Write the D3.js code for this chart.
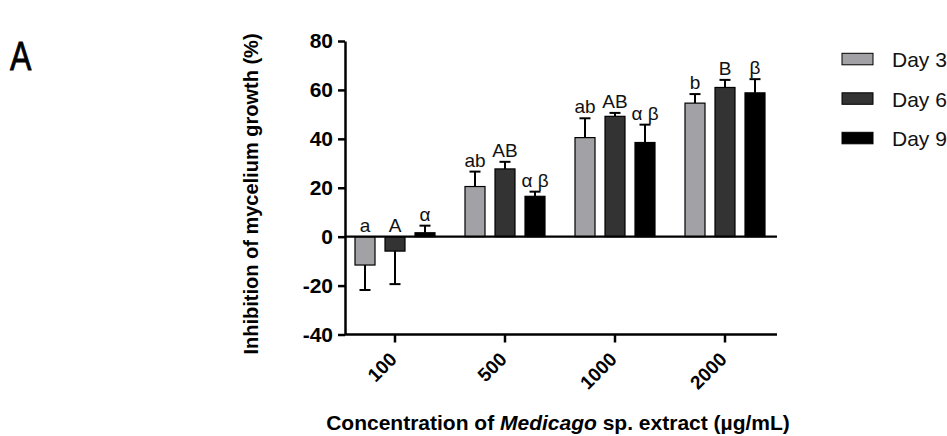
<!DOCTYPE html>
<html>
<head>
<meta charset="utf-8">
<script src="https://cdn.jsdelivr.net/npm/d3@7"></script>
<style>
  body { margin: 0; background: #fff; }
  text { font-family: "Liberation Sans", Arial, sans-serif; }
</style>
</head>
<body>
<div id="chart"></div>
<script>
// data
const groups = ["100", "500", "1000", "2000"];
const days = ["Day 3", "Day 6", "Day 9"];
const day3 = [-11.6, 20.5, 40.5, 54.6];
const day6 = [-5.9, 27.7, 49.2, 61.0];
const day9 = [1.6, 16.5, 38.5, 58.8];
const sd3 = [10.2, 6.1, 7.9, 3.7];
const sd6 = [13.5, 2.9, 1.4, 3.1];
const sd9 = [2.9, 1.9, 7.3, 5.6];
const letters3 = ["a", "ab", "ab", "b"];
const letters6 = ["A", "AB", "AB", "B"];
const letters9 = ["α", "α β", "α β", "β"];
const yTicks = [-40, -20, 0, 20, 40, 60, 80];

const width = 947, height = 436;
const colors = ["#a2a2a6", "#333333", "#000000"];

const svg = d3.select("#chart").append("svg")
  .attr("width", width)
  .attr("height", height);

const x = d3.scaleBand().domain(groups).range([340, 780]);
const xInner = d3.scaleBand().domain(days).range([-45, 45])
  .paddingInner(1 / 3).paddingOuter(1 / 6);
const y = d3.scaleLinear().domain([-40, 80]).range([334.5, 41]);

const vals = [day3, day6, day9], sds = [sd3, sd6, sd9], lets = [letters3, letters6, letters9];
const rows = [];
groups.forEach((g, gi) => {
  days.forEach((d, di) => {
    rows.push({ g, day: d, di, v: vals[di][gi], sd: sds[di][gi], lab: lets[di][gi] });
  });
});
const cx = r => x(r.g) + x.bandwidth() / 2 + xInner(r.day) + xInner.bandwidth() / 2;

// error bars (drawn first so the bar covers the stem)
const errEnd = r => r.v >= 0 ? r.v + r.sd : r.v - r.sd;
svg.selectAll("line.err")
  .data(rows)
  .join("line")
  .attr("class", "err")
  .attr("x1", cx).attr("x2", cx)
  .attr("y1", r => y(r.v)).attr("y2", r => y(errEnd(r)))
  .attr("stroke", "#000").attr("stroke-width", 2);
svg.selectAll("line.cap")
  .data(rows)
  .join("line")
  .attr("class", "cap")
  .attr("x1", r => cx(r) - 5.5).attr("x2", r => cx(r) + 5.5)
  .attr("y1", r => y(errEnd(r))).attr("y2", r => y(errEnd(r)))
  .attr("stroke", "#000").attr("stroke-width", 2);

// bars
svg.selectAll("rect.bar")
  .data(rows)
  .join("rect")
  .attr("class", "bar")
  .attr("x", r => cx(r) - xInner.bandwidth() / 2)
  .attr("width", xInner.bandwidth())
  .attr("y", r => y(Math.max(0, r.v)))
  .attr("height", r => Math.abs(y(r.v) - y(0)))
  .attr("fill", r => colors[r.di])
  .attr("stroke", "#000").attr("stroke-width", 1.2);

// significance letters
svg.selectAll("text.lab")
  .data(rows)
  .join("text")
  .attr("class", "lab")
  .attr("x", cx)
  .attr("y", r => y(r.v > 0 ? r.v + r.sd : 0) - 5)
  .attr("text-anchor", "middle")
  .attr("font-size", 19)
  .attr("fill", "#111")
  .text(r => r.lab);

// zero line
svg.append("line")
  .attr("x1", 345).attr("x2", 777)
  .attr("y1", y(0)).attr("y2", y(0))
  .attr("stroke", "#000").attr("stroke-width", 2.3);

// y axis
const yAxis = svg.append("g")
  .attr("transform", "translate(345,0)")
  .call(d3.axisLeft(y).tickValues(yTicks).tickFormat(d => String(d))
    .tickSize(7).tickPadding(5).tickSizeOuter(0));
yAxis.select(".domain").attr("stroke-width", 2.5);
yAxis.selectAll(".tick line").attr("stroke-width", 2.5);
yAxis.selectAll(".tick text")
  .attr("font-family", "Liberation Sans, Arial, sans-serif")
  .attr("font-size", 21).attr("font-weight", "bold").attr("fill", "#000");

// x axis
const xAxis = svg.append("g")
  .attr("transform", `translate(0,${y(-40)})`)
  .call(d3.axisBottom(x).tickSize(8).tickSizeOuter(0));
xAxis.select(".domain").attr("d", "M345,0H777").attr("stroke-width", 2.5);
xAxis.selectAll(".tick line").attr("stroke-width", 2.5);
xAxis.selectAll(".tick text")
  .attr("font-family", "Liberation Sans, Arial, sans-serif")
  .attr("font-size", 19).attr("font-weight", "bold").attr("fill", "#000")
  .attr("text-anchor", "end")
  .attr("dy", 0)
  .attr("y", 0)
  .attr("transform", "translate(3,26) rotate(-45)");

// axis titles
svg.append("text")
  .attr("transform", "translate(258,194) rotate(-90)")
  .attr("text-anchor", "middle")
  .attr("font-size", 20).attr("font-weight", "bold")
  .text("Inhibition of mycelium growth (%)");

const xt = svg.append("text")
  .attr("x", 558).attr("y", 430)
  .attr("text-anchor", "middle")
  .attr("font-size", 21).attr("font-weight", "bold");
xt.append("tspan").text("Concentration of ");
xt.append("tspan").attr("font-style", "italic").text("Medicago");
xt.append("tspan").text(" sp. extract (µg/mL)");

// legend
const legend = svg.selectAll("g.legend")
  .data(days)
  .join("g")
  .attr("class", "legend")
  .attr("transform", (d, i) => `translate(842,${53.3 + i * 39.5})`);
legend.append("rect")
  .attr("width", 31).attr("height", 11.5)
  .attr("fill", (d, i) => colors[i])
  .attr("stroke", "#000").attr("stroke-width", 1);
legend.append("text")
  .attr("x", 50).attr("y", 14)
  .attr("font-size", 21)
  .attr("fill", "#111")
  .text(d => d);

// panel letter (condensed look)
svg.append("text")
  .attr("transform", "translate(10,70) scale(0.8,1)")
  .attr("font-size", 40)
  .attr("stroke", "#000").attr("stroke-width", 0.8)
  .text("A");
</script>
</body>
</html>
